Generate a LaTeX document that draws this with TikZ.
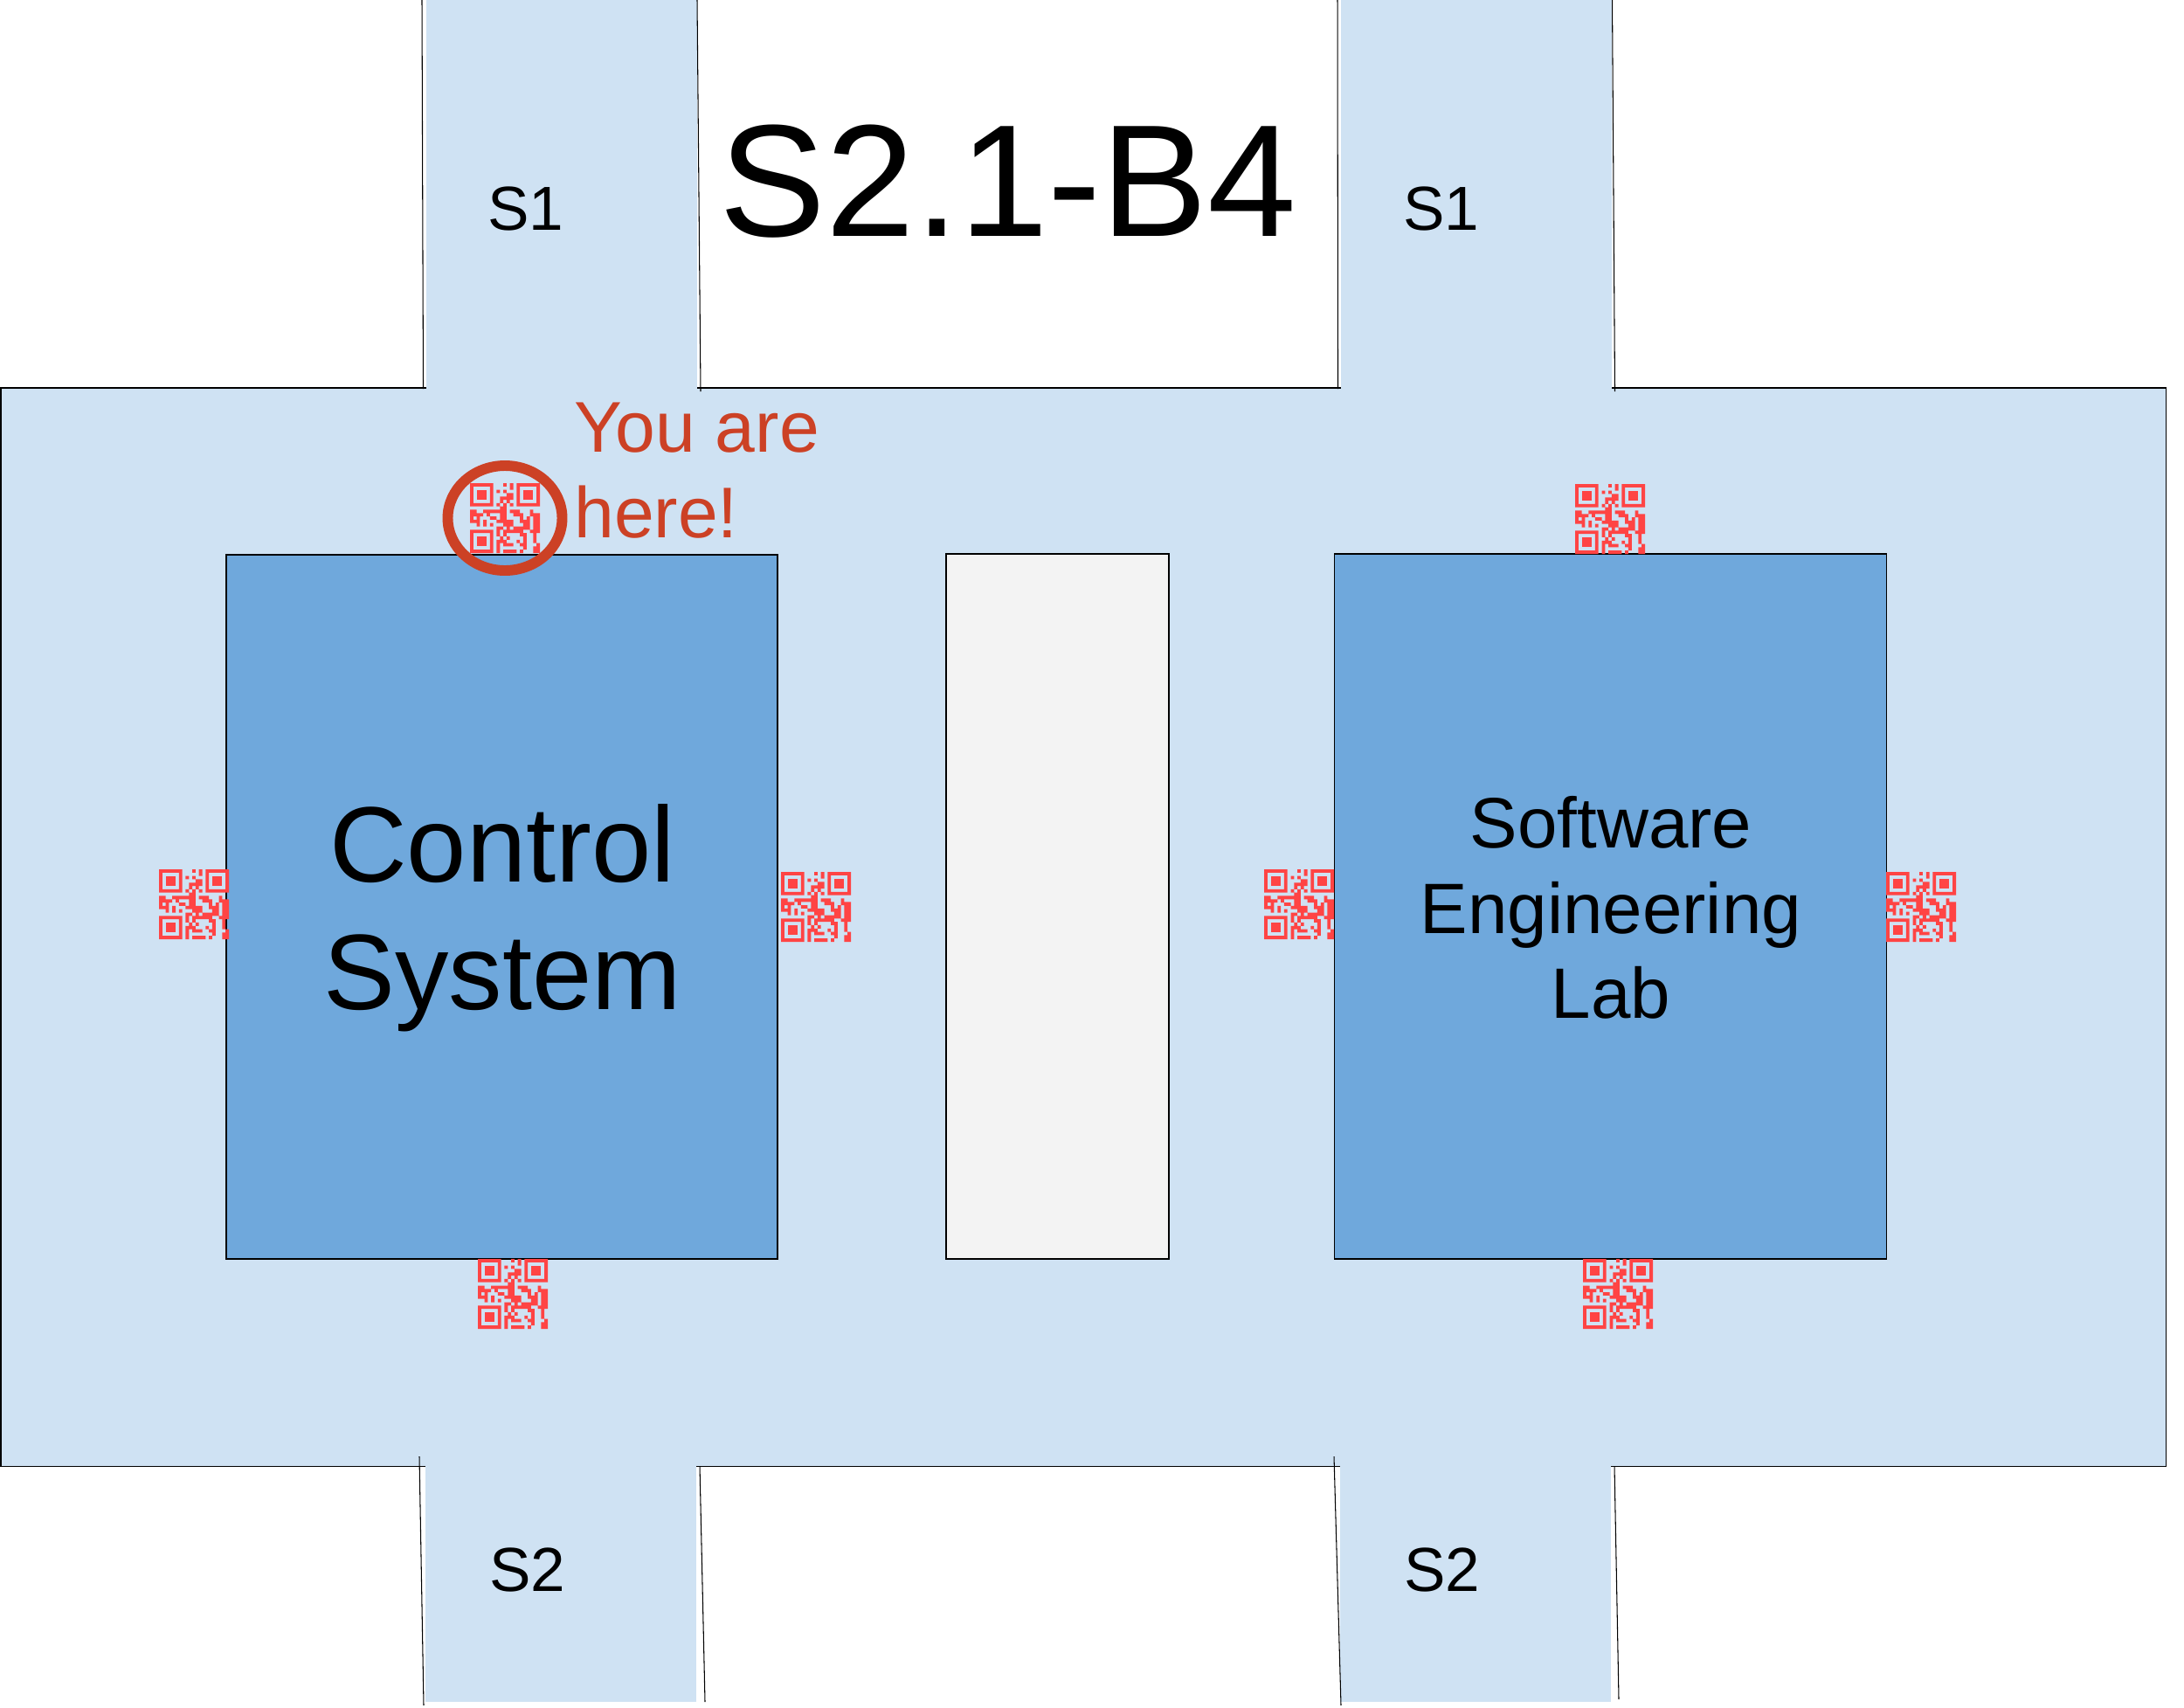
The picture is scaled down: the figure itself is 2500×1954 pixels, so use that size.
\documentclass[tikz,border=0pt]{standalone}
\usepackage{xcolor}
\usepackage{fontspec}
\setmainfont{Liberation Sans}

\definecolor{hallblue}{HTML}{CFE2F3}
\definecolor{roomblue}{HTML}{6FA8DC}
\definecolor{pillargray}{HTML}{F3F3F3}
\definecolor{qrred}{HTML}{FF4444}
\definecolor{herered}{HTML}{CC4125}

\tikzset{
 wall/.style={black, line width=0.6pt},
 room/.style={wall, fill=roomblue},
 stairs/.style={font=\fontsize{40.5}{48}\selectfont, inner sep=0pt, anchor=base},
 qrcode/.pic={
  \foreach \c/\r in {0/0,14/0,0/14} {
   \fill[qrred, even odd rule] (\c*3.81,\r*3.81) rectangle ++(26.67,26.67)
    (\c*3.81+3.81,\r*3.81+3.81) rectangle ++(19.05,19.05);
   \fill[qrred] (\c*3.81+7.62,\r*3.81+7.62) rectangle ++(11.43,11.43);
  }
  \fill[qrred] \foreach \r/\cols in {
    0/{10,12}, 1/{12}, 2/{8,10}, 3/{11,12}, 4/{9,10,11,12}, 5/{9,11},
    6/{8,10,12}, 7/{9,10},
    8/{0,1,4,5,6,7,8,9,10,12,13,14,18},
    9/{0,1,2,3,5,9,10,13,14,15,18,19,20},
    10/{0,2,6,7,9,10,15,17,19,20},
    11/{0,1,2,4,8,9,10,11,12,15,16,17,19,20},
    12/{2,4,6,10,11,12,16,17,19,20},
    13/{8,9,11,13,14,15,16,17,19,20},
    14/{8,10,11,12,13,14,15,18,19,20},
    15/{8,10,15,16,19},
    16/{9,11,16,19},
    17/{8,9,10,14,16,19},
    18/{8,10,11,12,15,16,20},
    19/{8,16,19,20},
    20/{8,10,11,12,13,15,19,20}} {
    \foreach \c in \cols { (\c*3.81,\r*3.81) rectangle ++(3.81,3.81) }
   };
 }
}

\begin{document}
\begin{tikzpicture}[x=0.02cm, y=-0.02cm]
 \useasboundingbox (0,0) rectangle (2500,1954);

 % hall and stair corridors
 \draw[wall, fill=hallblue] (1,444) rectangle (2479,1678);
 \fill[hallblue] (488,0) rectangle (798,446);
 \fill[hallblue] (1535,0) rectangle (1845,446);
 \fill[hallblue] (487,1676) rectangle (797,1948);
 \fill[hallblue] (1534,1676) rectangle (1844,1948);

 % corridor walls
 \coordinate (TLa) at (483,0);    \coordinate (TLb) at (484.5,445);
 \coordinate (TRa) at (798,0);    \coordinate (TRb) at (802,448);
 \coordinate (UTLa) at (1531,0);  \coordinate (UTLb) at (1531.5,445);
 \coordinate (UTRa) at (1845.5,0); \coordinate (UTRb) at (1848.5,448);
 \coordinate (BLa) at (480,1667); \coordinate (BLb) at (485,1952);
 \coordinate (BRa) at (801,1678); \coordinate (BRb) at (807,1948);
 \coordinate (LBLa) at (1527,1667); \coordinate (LBLb) at (1535,1952);
 \coordinate (LBRa) at (1848,1678); \coordinate (LBRb) at (1853,1945);
 \draw[wall] (TLa) -- (TLb);
 \draw[wall] (TRa) -- (TRb);
 \draw[wall] (UTLa) -- (UTLb);
 \draw[wall] (UTRa) -- (UTRb);
 \draw[wall] (BLa) -- (BLb);
 \draw[wall] (BRa) -- (BRb);
 \draw[wall] (LBLa) -- (LBLb);
 \draw[wall] (LBRa) -- (LBRb);

 % rooms
 \draw[room] (259,635) rectangle (890,1441);
 \draw[wall, fill=pillargray] (1083,634) rectangle (1338,1441);
 \draw[room] (1527.5,634) rectangle (2159.5,1441);

 % qr codes
 \pic at (538,553) {qrcode};
 \pic at (1803,554) {qrcode};
 \pic at (182,995) {qrcode};
 \pic at (894,998) {qrcode};
 \pic at (1447,995) {qrcode};
 \pic at (2159,998) {qrcode};
 \pic at (547,1441) {qrcode};
 \pic at (1812,1441) {qrcode};

 % you are here
 \draw[herered, line width=6.8pt] (578,593) ellipse [x radius=65.5, y radius=60];
 \node[herered, font=\fontsize{46.8}{55.6}\selectfont, inner sep=0pt, align=left, anchor=north west] (here) at (657,461) {You are\\here!};

 % labels
 \node[font=\fontsize{104}{120}\selectfont, inner sep=0pt, anchor=base] (title) at (1154,270) {S2.1-B4};
 \node[stairs] (sonea) at (602,263.5) {S1};
 \node[stairs] (soneb) at (1650,263.5) {S1};
 \node[stairs] (stwoa) at (604,1821) {S2};
 \node[stairs] (stwob) at (1651,1821) {S2};
 \node[font=\fontsize{69.9}{83.3}\selectfont, inner sep=0pt, align=center] (control) at (575,1051) {Control\\System};
 \node[font=\fontsize{46.5}{55.6}\selectfont, inner sep=0pt, align=center] (software) at (1844,1039) {Software\\Engineering\\Lab};
\end{tikzpicture}
\end{document}
